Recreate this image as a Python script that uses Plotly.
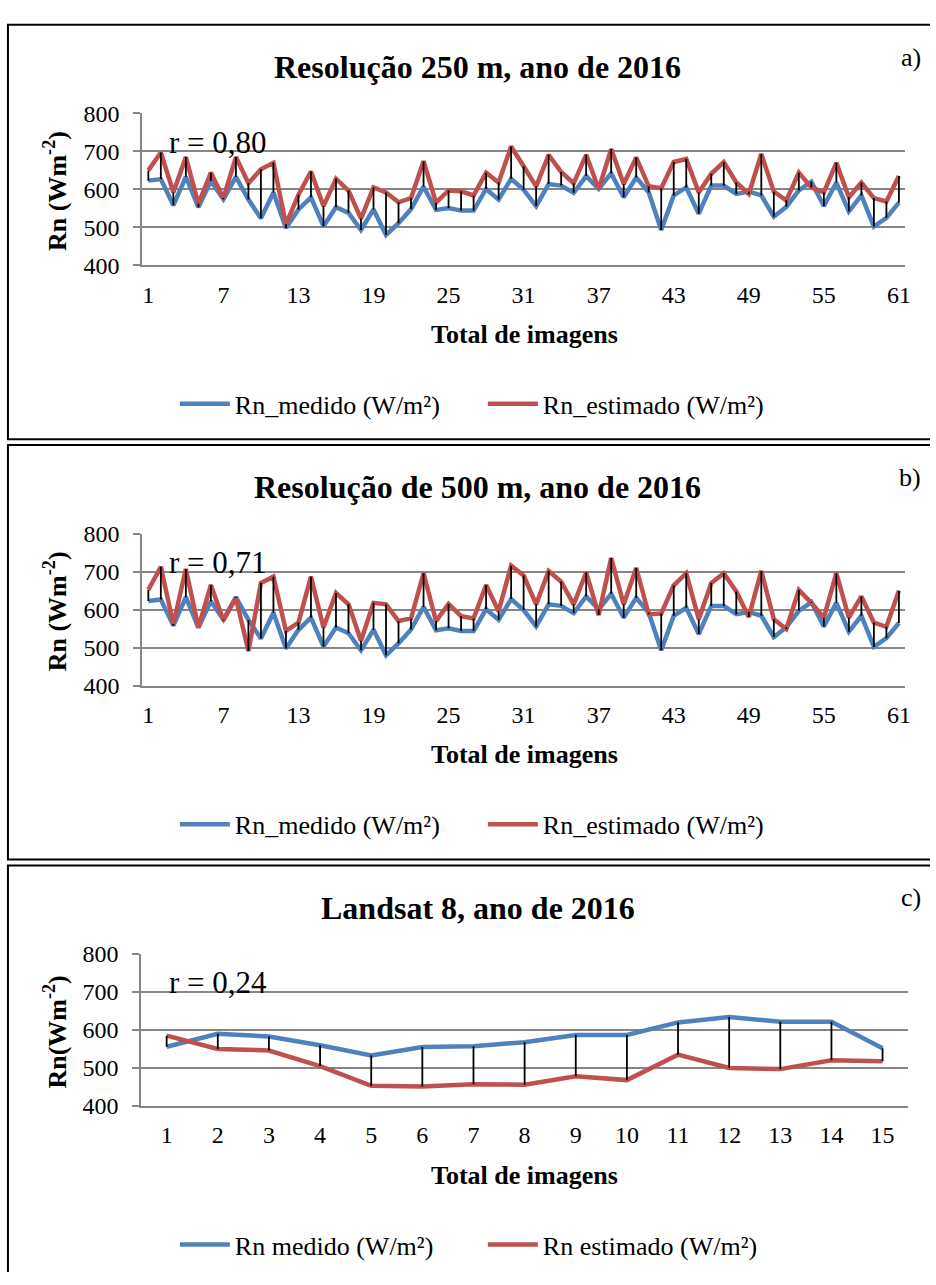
import plotly.graph_objects as go

# ---------------- data ----------------
images_61 = list(range(1, 62))
images_15 = list(range(1, 16))

medido_modis = [623, 627, 558, 633, 553, 622, 574, 633, 573, 524,
                592, 498, 547, 579, 503, 553, 538, 493, 547, 480,
                511, 548, 607, 546, 551, 544, 544, 601, 573, 628,
                599, 556, 614, 610, 591, 635, 601, 642, 579, 631,
                592, 493, 584, 605, 536, 610, 610, 588, 594, 584,
                528, 554, 597, 620, 556, 618, 542, 584, 502, 525, 565]

estimado_250 = [650, 697, 592, 685, 562, 644, 577, 685, 616, 653,
                670, 508, 586, 647, 556, 628, 597, 523, 605, 592,
                566, 577, 674, 565, 597, 595, 584, 644, 618, 713,
                661, 608, 691, 646, 616, 691, 601, 706, 614, 684,
                608, 603, 672, 680, 592, 641, 672, 618, 588, 693,
                594, 571, 644, 605, 592, 670, 579, 618, 577, 568, 635]

estimado_500 = [652, 713, 562, 707, 553, 665, 572, 631, 491, 670,
                687, 544, 566, 687, 553, 644, 614, 518, 618, 614,
                570, 577, 696, 570, 615, 583, 577, 665, 596, 716,
                690, 614, 702, 674, 614, 698, 586, 736, 614, 710,
                588, 590, 664, 696, 575, 670, 696, 648, 581, 702,
                575, 549, 652, 618, 579, 696, 579, 635, 566, 555, 650]

medido_landsat = [556, 590, 583, 560, 533, 555, 557, 568, 587, 587, 620, 634, 622, 622, 552]
estimado_landsat = [585, 550, 546, 505, 453, 451, 457, 456, 478, 468, 535, 500, 497, 520, 518]

ticks_61 = [1, 7, 13, 19, 25, 31, 37, 43, 49, 55, 61]
ticks_15 = list(range(1, 16))
y_ticks = [400, 500, 600, 700, 800]

titles = ["Resolução 250 m, ano de 2016", "Resolução de 500 m, ano de 2016", "Landsat 8, ano de 2016"]
tags = ["a)", "b)", "c)"]
r_texts = ["r = 0,80", "r = 0,71", "r = 0,24"]
y_titles = ["Rn (Wm<sup>-2</sup>)", "Rn (Wm<sup>-2</sup>)", "Rn(Wm<sup>-2</sup>)"]
med_names = ["Rn_medido (W/m²)", "Rn_medido (W/m²)", "Rn medido (W/m²)"]
est_names = ["Rn_estimado (W/m²)", "Rn_estimado (W/m²)", "Rn estimado (W/m²)"]
x_title = "Total de imagens"

# ---------------- layout helpers ----------------
W, H = 936, 1285
FONT = "Liberation Serif, Times New Roman, serif"
BLUE = "#4F81BD"
RED = "#C0504D"
GRID = "#868686"

def py(px):
    return 1 - px / H

def pxx(px):
    return px / W

panels = [
    dict(x=images_61, med=medido_modis, est=estimado_250, ticks=ticks_61, n=61),
    dict(x=images_61, med=medido_modis, est=estimado_500, ticks=ticks_61, n=61),
    dict(x=images_15, med=medido_landsat, est=estimado_landsat, ticks=ticks_15, n=15),
]
box_tops = [12, 441, 870]
BOX_H = 423

fig = go.Figure()
annotations = []
shapes = []
layout_axes = {}

def hline(ypx):
    return dict(type="line", xref="paper", yref="paper", x0=pxx(7), x1=1.0,
                y0=py(ypx), y1=py(ypx), line=dict(color="black", width=2))

for k, p in enumerate(panels):
    T = box_tops[k]
    sfx = "" if k == 0 else str(k + 1)
    xa = "x" + sfx
    ya = "y" + sfx
    leg = "legend" + sfx

    fig.add_trace(go.Scatter(x=p["x"], y=p["med"], mode="lines", name=med_names[k],
                             line=dict(color=BLUE, width=4.5), xaxis=xa, yaxis=ya, legend=leg))
    fig.add_trace(go.Scatter(x=p["x"], y=p["est"], mode="lines", name=est_names[k],
                             line=dict(color=RED, width=4.5), xaxis=xa, yaxis=ya, legend=leg))
    hx, hy = [], []
    for xi, m, e in zip(p["x"], p["med"], p["est"]):
        hx += [xi, xi, None]
        hy += [m, e, None]
    fig.add_trace(go.Scatter(x=hx, y=hy, mode="lines", line=dict(color="black", width=1.8),
                             showlegend=False, xaxis=xa, yaxis=ya, hoverinfo="skip"))

    y_top, y_bot = T + 90.5, T + 245.5
    if k < 2:
        xdom = [pxx(143), pxx(911)]
    else:
        xdom = [pxx(142), pxx(914)]

    layout_axes["xaxis" + sfx] = dict(
        domain=xdom, range=[0.5, p["n"] + 0.5], anchor=ya,
        tickmode="array", tickvals=p["ticks"], ticktext=[str(t) for t in p["ticks"]],
        showgrid=False, zeroline=False, showline=True, linecolor=GRID, linewidth=1.5,
        ticks="", tickfont=dict(family=FONT, size=24, color="black"),
        ticklabelstandoff=7,
    )
    layout_axes["yaxis" + sfx] = dict(
        domain=[py(y_bot), py(y_top)], range=[400, 800], anchor=xa,
        tickmode="array", tickvals=y_ticks,
        showgrid=True, gridcolor=GRID, gridwidth=1.5, zeroline=False,
        showline=True, linecolor=GRID, linewidth=1.5,
        ticks="outside", ticklen=7, tickcolor=GRID, tickwidth=1.5,
        tickfont=dict(family=FONT, size=24, color="black"),
        ticklabelstandoff=9,
    )

    layout_axes[leg] = dict(
        orientation="h", x=pxx(176), xanchor="left", y=py(T + 387), yanchor="middle",
        font=dict(family=FONT, size=26, color="black"), entrywidth=243,
        bgcolor="rgba(0,0,0,0)", borderwidth=0, itemwidth=50, tracegroupgap=0,
    )

    annotations += [
        dict(text="<b>" + titles[k] + "</b>", x=pxx(481), y=py(T + 43), xref="paper", yref="paper",
             xanchor="center", yanchor="middle", showarrow=False,
             font=dict(family=FONT, size=32, color="black")),
        dict(text=tags[k], x=pxx(929), y=py(T + 33), xref="paper", yref="paper",
             xanchor="right", yanchor="middle", showarrow=False,
             font=dict(family=FONT, size=26, color="black")),
        dict(text=r_texts[k], x=pxx(168), y=py(T + 120), xref="paper", yref="paper",
             xanchor="left", yanchor="middle", showarrow=False,
             font=dict(family=FONT, size=31, color="black")),
        dict(text="<b>" + x_title + "</b>", x=pxx(528), y=py(T + 316), xref="paper", yref="paper",
             xanchor="center", yanchor="middle", showarrow=False,
             font=dict(family=FONT, size=26, color="black")),
        dict(text="<b>" + y_titles[k] + "</b>", x=pxx(56), y=py(T + 170), xref="paper", yref="paper",
             xanchor="center", yanchor="middle", showarrow=False, textangle=-90,
             font=dict(family=FONT, size=26, color="black")),
    ]
    # panel frame: top, left and (if inside the page) bottom edges
    shapes.append(hline(T))
    bottom = min(T + BOX_H, H)
    shapes.append(dict(type="line", xref="paper", yref="paper", x0=pxx(8), x1=pxx(8),
                       y0=py(bottom), y1=py(T), line=dict(color="black", width=2)))
    if T + BOX_H < H:
        shapes.append(hline(T + BOX_H))

fig.update_layout(
    width=W, height=H, autosize=False,
    margin=dict(l=0, r=0, t=0, b=0),
    paper_bgcolor="white", plot_bgcolor="white",
    annotations=annotations, shapes=shapes,
    font=dict(family=FONT, color="black"),
    **layout_axes,
)

fig.write_html(
    "out.html",
    config={"displayModeBar": False},
    post_script="document.body.style.margin='0';document.body.style.overflow='hidden';"
                "document.documentElement.style.overflow='hidden';",
)
